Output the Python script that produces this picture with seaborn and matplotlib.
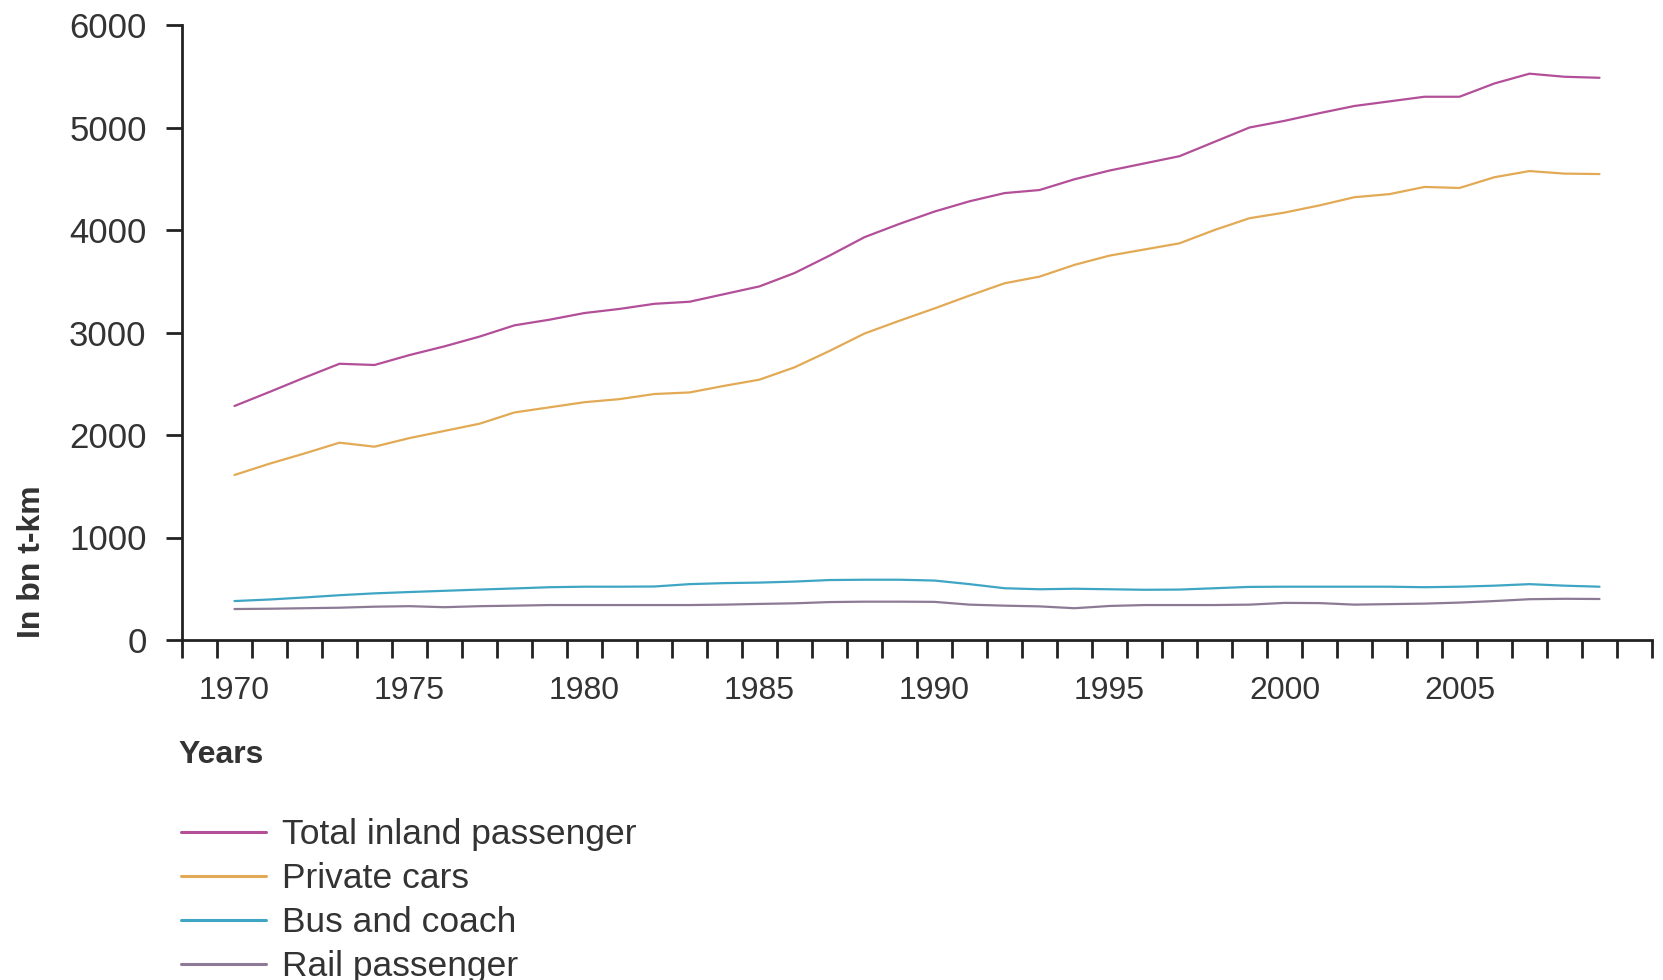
import matplotlib
matplotlib.use("Agg")
import matplotlib.pyplot as plt
import seaborn as sns
import pandas as pd
import numpy as np
from matplotlib.ticker import FixedLocator

years = list(range(1970, 2010))

total_inland = [2283, 2420, 2560, 2695, 2683, 2780, 2865, 2960, 3070, 3125,
                3190, 3230, 3280, 3300, 3375, 3450, 3580, 3750, 3930, 4060,
                4180, 4280, 4360, 4390, 4495, 4580, 4650, 4720, 4860, 5000,
                5065, 5140, 5210, 5255, 5300, 5300, 5430, 5525, 5495, 5485]

private_cars = [1610, 1720, 1820, 1925, 1886, 1970, 2040, 2110, 2220, 2270,
                2320, 2350, 2400, 2415, 2480, 2540, 2660, 2820, 2990, 3115,
                3235, 3360, 3480, 3545, 3660, 3750, 3810, 3870, 4000, 4115,
                4170, 4240, 4320, 4350, 4420, 4410, 4515, 4575, 4550, 4546]

bus_coach = [380, 395, 415, 437, 455, 468, 480, 492, 503, 515,
             520, 520, 522, 545, 555, 560, 570, 585, 588, 588,
             580, 545, 505, 495, 500, 495, 490, 492, 505, 518,
             520, 520, 520, 520, 515, 520, 530, 545, 530, 520]

rail_passenger = [302, 305, 310, 315, 325, 330, 320, 330, 335, 341,
                  341, 341, 341, 341, 345, 352, 358, 370, 374, 374,
                  372, 345, 335, 328, 310, 332, 341, 341, 341, 345,
                  362, 360, 345, 350, 355, 365, 380, 398, 402, 400]

series_names = ["Total inland passenger", "Private cars", "Bus and coach", "Rail passenger"]
series_values = [total_inland, private_cars, bus_coach, rail_passenger]
colors = ["#b24f98", "#e2aa55", "#3ea6c4", "#8d7b96"]

x_tick_labels = ["1970", "1975", "1980", "1985", "1990", "1995", "2000", "2005"]
y_ticks = [0, 1000, 2000, 3000, 4000, 5000, 6000]

rows = []
for name, vals in zip(series_names, series_values):
    for yr, v in zip(years, vals):
        rows.append({"Year": yr, "Value": v, "Series": name})
df = pd.DataFrame(rows)

sns.set_theme(style="white")
plt.rcParams["font.family"] = ["Liberation Sans", "DejaVu Sans"]

FS = 23
FS_Y = 25
FS_LEG = 25.5
TXT = "#333333"

fig = plt.figure(figsize=(16.63, 9.80), dpi=100)
ax = fig.add_axes([182 / 1663, (980 - 640) / 980, (1652 - 182) / 1663, 615 / 980])

sns.lineplot(data=df, x="Year", y="Value", hue="Series", hue_order=series_names,
             palette=colors, linewidth=1.6, ax=ax, legend=True)

ax.set_xlim(1968.5, 2010.5)
ax.set_ylim(0, 6000)

for s in ["top", "right"]:
    ax.spines[s].set_visible(False)
for s in ["left", "bottom"]:
    ax.spines[s].set_color("#222222")
    ax.spines[s].set_linewidth(2)

ax.set_yticks(y_ticks)
ax.set_yticklabels([str(v) for v in y_ticks])
ax.tick_params(axis="y", which="major", direction="out", length=11.5, width=2,
               color="#222222", labelsize=FS_Y, labelcolor=TXT, pad=14, left=True)

ax.set_xticks([int(t) for t in x_tick_labels])
ax.set_xticklabels(x_tick_labels)
ax.xaxis.set_minor_locator(FixedLocator(np.arange(1968.5, 2010.6, 1.0)))
ax.tick_params(axis="x", which="major", length=0, labelsize=FS, labelcolor=TXT, pad=26, bottom=True)
ax.tick_params(axis="x", which="minor", direction="out", length=13, width=2,
               color="#222222", bottom=True)

ax.set_xlabel("")
ax.set_ylabel("")
ax.grid(False)

fig.text(32 / 1663, 1 - 562 / 980, "In bn t-km", rotation=90, ha="center", va="center",
         fontsize=FS, fontweight="bold", color=TXT)
fig.text(178 / 1663, 1 - 755 / 980, "Years", ha="left", va="center",
         fontsize=FS, fontweight="bold", color=TXT)

handles, labels = ax.get_legend_handles_labels()
if ax.get_legend() is not None:
    ax.get_legend().remove()
leg = fig.legend(handles, labels, loc="upper left",
                 bbox_to_anchor=(181 / 1663, 1 - 818 / 980),
                 bbox_transform=fig.transFigure,
                 frameon=False, fontsize=FS_LEG, handlelength=2.4, handletextpad=0.45,
                 labelspacing=0.31, borderpad=0, borderaxespad=0)
for t in leg.get_texts():
    t.set_color(TXT)
for l in leg.get_lines():
    l.set_linewidth(2.2)

fig.savefig("out.png", dpi=100)
